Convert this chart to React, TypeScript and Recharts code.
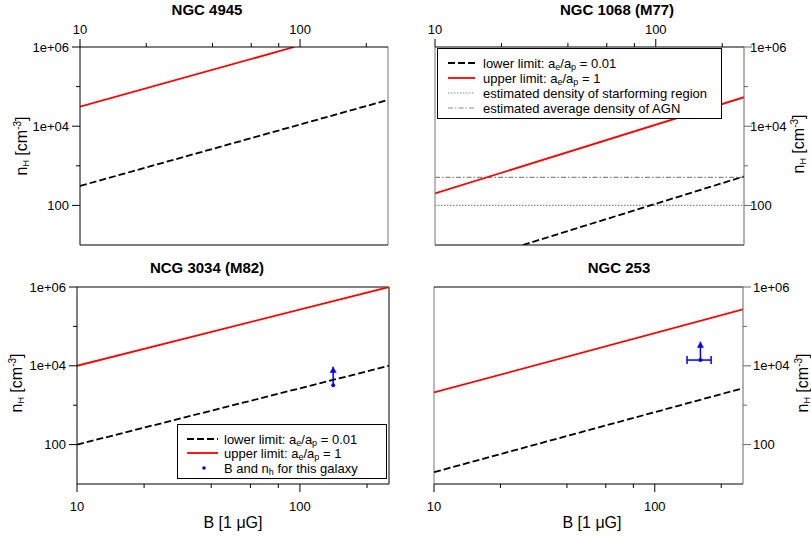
import React from 'react';
import { LineChart, Line, XAxis, YAxis, ReferenceLine } from 'recharts';

const FONT = "'Liberation Sans', Arial, sans-serif";

const B_DOMAIN: [number, number] = [10, 251];
const N_DOMAIN: [number, number] = [10, 1000000];
const B_TICKS = [10, 20, 40, 60, 80, 100, 200];
const N_TICKS = [100, 1000, 10000, 100000, 1000000];
const B_LABELS: Record<number, string> = { 10: '10', 100: '100' };
const N_LABELS: Record<number, string> = { 100: '100', 10000: '1e+04', 1000000: '1e+06' };

const TITLES = ['NGC 4945', 'NGC 1068 (M77)', 'NCG 3034 (M82)', 'NGC 253'];

// NGC 4945
const ngc4945LowerB = [10, 251];
const ngc4945LowerN = [310, 46000];
const ngc4945UpperB = [10, 94];
const ngc4945UpperN = [31000, 1000000];

// NGC 1068 (M77)
const ngc1068LowerB = [25, 251];
const ngc1068LowerN = [10, 540];
const ngc1068UpperB = [10, 251];
const ngc1068UpperN = [200, 54000];
const ngc1068StarB = [10, 251];
const ngc1068StarN = [100, 100];
const ngc1068AgnB = [10, 251];
const ngc1068AgnN = [510, 510];

// NGC 3034 (M82)
const m82LowerB = [10, 251];
const m82LowerN = [100, 10000];
const m82UpperB = [10, 251];
const m82UpperN = [10000, 1000000];
const m82PointB = [141, 141];
const m82PointN = [3200, 9500];

// NGC 253
const ngc253LowerB = [10, 251];
const ngc253LowerN = [20, 2700];
const ngc253UpperB = [10, 251];
const ngc253UpperN = [2100, 270000];
const ngc253PointB = [161, 161];
const ngc253PointN = [14000, 41000];
const ngc253ErrB = [140, 180];
const ngc253ErrN = [14000, 14000];

const pts = (bs: number[], ns: number[]) => bs.map((b, i) => ({ b, n: ns[i] }));

const BLUE = '#0000ff';
const RED = '#ff0000';

const arrowDot = (p: any) => {
  const { cx, cy, index } = p;
  if (index === 1) {
    return <path key={`a${index}`} d={`M${cx},${cy} L${cx - 3.5},${cy + 6} L${cx + 3.5},${cy + 6} Z`} fill={BLUE} />;
  }
  return <circle key={`a${index}`} cx={cx} cy={cy} r={2} fill={BLUE} />;
};

const capDot = (p: any) => {
  const { cx, cy, index } = p;
  return <line key={`c${index}`} x1={cx} y1={cy - 4} x2={cx} y2={cy + 4} stroke={BLUE} strokeWidth={1.5} />;
};

type Series = { key: string; data: { b: number; n: number }[]; stroke: string; width: number; dash?: string; dot?: any };

const makeXTick = (top: boolean) => (props: any) => {
  const { x, y, payload } = props;
  const v = payload.value;
  const label = B_LABELS[v];
  const len = label ? 8 : 4;
  const dir = top ? -1 : 1;
  return (
    <g>
      <line x1={x} y1={y} x2={x} y2={y + dir * len} stroke="#000" />
      {label && (
        <text x={x} y={top ? y - 13 : y + 27} textAnchor="middle" fontSize={13} fontFamily={FONT} fill="#000">
          {label}
        </text>
      )}
    </g>
  );
};

const makeYTick = (right: boolean, gap: number, color: string) => (props: any) => {
  const { x, y, payload } = props;
  const v = payload.value;
  const label = N_LABELS[v];
  const len = label ? 8 : 4;
  const dir = right ? 1 : -1;
  return (
    <g>
      <line x1={x} y1={y} x2={x + dir * len} y2={y} stroke={color} />
      {label && (
        <text x={x + dir * gap} y={y + 4.5} textAnchor={right ? 'start' : 'end'} fontSize={13} fontFamily={FONT} fill="#000">
          {label}
        </text>
      )}
    </g>
  );
};

type Box = { left: number; top: number; w: number; h: number };
type Plot = { x0: number; x1: number; y0: number; y1: number };

function Panel(props: {
  box: Box; plot: Plot; xTop: boolean; yRight: boolean; series: Series[]; yGap: number; yColor: string; edgeV: string;
}) {
  const { box, plot, xTop, yRight, series, yGap, yColor, edgeV } = props;
  const XH = 30;
  const YW = 60;
  const margin = {
    top: xTop ? plot.y0 - box.top - XH : plot.y0 - box.top,
    bottom: xTop ? box.top + box.h - plot.y1 : box.top + box.h - plot.y1 - XH,
    left: yRight ? plot.x0 - box.left : plot.x0 - box.left - YW,
    right: yRight ? box.left + box.w - plot.x1 - YW : box.left + box.w - plot.x1,
  };
  return (
    <div style={{ position: 'absolute', left: box.left, top: box.top, width: box.w, height: box.h }}>
      <LineChart width={box.w} height={box.h} margin={margin}>
        <XAxis
          xAxisId="b" type="number" dataKey="b" scale="log" domain={B_DOMAIN} allowDataOverflow
          ticks={B_TICKS} interval={0} orientation={xTop ? 'top' : 'bottom'} height={XH}
          tickSize={0} tickMargin={0} tickLine={false} axisLine={{ stroke: '#000' }} tick={makeXTick(xTop)}
        />
        <YAxis
          yAxisId="n" type="number" dataKey="n" scale="log" domain={N_DOMAIN} allowDataOverflow
          ticks={N_TICKS} interval={0} orientation={yRight ? 'right' : 'left'} width={YW}
          tickSize={0} tickMargin={0} tickLine={false} axisLine={{ stroke: yColor }} tick={makeYTick(yRight, yGap, yColor)}
        />
        <ReferenceLine xAxisId="b" yAxisId="n" x={yRight ? B_DOMAIN[0] : B_DOMAIN[1]} stroke={edgeV} strokeWidth={1} />
        <ReferenceLine xAxisId="b" yAxisId="n" y={xTop ? N_DOMAIN[0] : N_DOMAIN[1]} stroke="#000" strokeWidth={1} />
        {series.map((s) => (
          <Line
            key={s.key} xAxisId="b" yAxisId="n" data={s.data} dataKey="n" type="linear"
            stroke={s.stroke} strokeWidth={s.width} strokeDasharray={s.dash}
            dot={s.dot ? s.dot : false} activeDot={false} isAnimationActive={false}
          />
        ))}
      </LineChart>
    </div>
  );
}

const sub = (t: string) => <span style={{ fontSize: 9, position: 'relative', top: 2, lineHeight: '9px' }}>{t}</span>;
const sup = (t: string) => <span style={{ fontSize: 10, position: 'relative', top: -6, lineHeight: '10px' }}>{t}</span>;

const Ratio = () => (
  <>a{sub('e')}/a{sub('p')}</>
);

function LegendRow(props: { top: number; textLeft: number; sample: React.ReactNode; children: React.ReactNode }) {
  return (
    <>
      <div style={{ position: 'absolute', left: 0, top: props.top - 6, height: 12 }}>{props.sample}</div>
      <div style={{ position: 'absolute', left: props.textLeft, top: props.top - 6.5, height: 13, lineHeight: '13px', whiteSpace: 'nowrap', fontSize: 13 }}>
        {props.children}
      </div>
    </>
  );
}

const sampleLine = (x0: number, x1: number, stroke: string, width: number, dash?: string) => (
  <svg width={x1 + 2} height={12} style={{ display: 'block' }}>
    <line x1={x0} y1={6} x2={x1} y2={6} stroke={stroke} strokeWidth={width} strokeDasharray={dash} />
  </svg>
);

const sampleDot = (cx: number) => (
  <svg width={cx + 4} height={12} style={{ display: 'block' }}>
    <circle cx={cx} cy={6} r={1.8} fill={BLUE} />
  </svg>
);

function YLabel(props: { cx: number; cy: number }) {
  return (
    <div style={{
      position: 'absolute', left: props.cx, top: props.cy, transform: 'translate(-50%, -50%) rotate(-90deg)',
      whiteSpace: 'nowrap', fontSize: 16, lineHeight: '18px',
    }}>
      n{sub('H')} [cm{sup('-3')}]
    </div>
  );
}

function Title(props: { cx: number; cy: number; text: string }) {
  return (
    <div style={{
      position: 'absolute', left: props.cx, top: props.cy, transform: 'translate(-50%, -50%)',
      whiteSpace: 'nowrap', fontSize: 15, fontWeight: 'bold', lineHeight: '18px',
    }}>{props.text}</div>
  );
}

function XLabel(props: { cx: number; cy: number }) {
  return (
    <div style={{
      position: 'absolute', left: props.cx, top: props.cy, transform: 'translate(-50%, -50%)',
      whiteSpace: 'nowrap', fontSize: 16, lineHeight: '18px',
    }}>B [1 μG]</div>
  );
}

const DASH = '7 3';

export default function App() {
  const p1: Series[] = [
    { key: 'lo', data: pts(ngc4945LowerB, ngc4945LowerN), stroke: '#000', width: 1.8, dash: DASH },
    { key: 'up', data: pts(ngc4945UpperB, ngc4945UpperN), stroke: RED, width: 1.8 },
  ];
  const p2: Series[] = [
    { key: 'star', data: pts(ngc1068StarB, ngc1068StarN), stroke: '#888', width: 1.2, dash: '1.5 1.5' },
    { key: 'agn', data: pts(ngc1068AgnB, ngc1068AgnN), stroke: '#888', width: 1.2, dash: '5 2 1.5 2' },
    { key: 'lo', data: pts(ngc1068LowerB, ngc1068LowerN), stroke: '#000', width: 1.8, dash: DASH },
    { key: 'up', data: pts(ngc1068UpperB, ngc1068UpperN), stroke: RED, width: 1.8 },
  ];
  const p3: Series[] = [
    { key: 'lo', data: pts(m82LowerB, m82LowerN), stroke: '#000', width: 1.8, dash: DASH },
    { key: 'up', data: pts(m82UpperB, m82UpperN), stroke: RED, width: 1.8 },
    { key: 'pt', data: pts(m82PointB, m82PointN), stroke: BLUE, width: 1.5, dot: arrowDot },
  ];
  const p4: Series[] = [
    { key: 'lo', data: pts(ngc253LowerB, ngc253LowerN), stroke: '#000', width: 1.8, dash: DASH },
    { key: 'up', data: pts(ngc253UpperB, ngc253UpperN), stroke: RED, width: 1.8 },
    { key: 'err', data: pts(ngc253ErrB, ngc253ErrN), stroke: BLUE, width: 1.5, dot: capDot },
    { key: 'pt', data: pts(ngc253PointB, ngc253PointN), stroke: BLUE, width: 1.5, dot: arrowDot },
  ];

  return (
    <div style={{ position: 'absolute', left: 0, top: 0, width: 811, height: 539, background: '#fff', fontFamily: FONT, color: '#000', overflow: 'hidden' }}>
      <Panel box={{ left: 0, top: 0, w: 400, h: 260 }} plot={{ x0: 80, x1: 388, y0: 47, y1: 245 }} xTop yRight={false} series={p1} yGap={11} yColor="#000" edgeV="#777" />
      <Panel box={{ left: 400, top: 0, w: 411, h: 260 }} plot={{ x0: 435, x1: 744, y0: 47, y1: 245 }} xTop yRight series={p2} yGap={6} yColor="#666" edgeV="#777" />
      <Panel box={{ left: 0, top: 260, w: 400, h: 279 }} plot={{ x0: 77, x1: 389, y0: 287, y1: 484 }} xTop={false} yRight={false} series={p3} yGap={11} yColor="#000" edgeV="#000" />
      <Panel box={{ left: 400, top: 260, w: 411, h: 279 }} plot={{ x0: 434, x1: 743, y0: 287, y1: 484 }} xTop={false} yRight series={p4} yGap={10} yColor="#666" edgeV="#777" />

      <Title cx={207} cy={10} text={TITLES[0]} />
      <Title cx={617} cy={10} text={TITLES[1]} />
      <Title cx={207} cy={268} text={TITLES[2]} />
      <Title cx={619} cy={268} text={TITLES[3]} />

      <YLabel cx={22} cy={146} />
      <YLabel cx={799} cy={144} />
      <YLabel cx={17} cy={383} />
      <YLabel cx={803} cy={383} />

      <XLabel cx={233} cy={523} />
      <XLabel cx={592} cy={523} />

      {/* legend NGC 1068 */}
      <div style={{ position: 'absolute', left: 437, top: 48, width: 285, height: 71, border: '1px solid #000', boxSizing: 'border-box', background: '#fff' }}>
        <LegendRow top={14} textLeft={45} sample={sampleLine(10, 37, '#000', 1.8, DASH)}>lower limit: <Ratio /> = 0.01</LegendRow>
        <LegendRow top={29} textLeft={45} sample={sampleLine(10, 37, RED, 1.8)}>upper limit: <Ratio /> = 1</LegendRow>
        <LegendRow top={44} textLeft={45} sample={sampleLine(10, 37, '#888', 1, '1.5 1.5')}>estimated density of starforming region</LegendRow>
        <LegendRow top={59} textLeft={45} sample={sampleLine(10, 37, '#888', 1, '5 2 1.5 2')}>estimated average density of AGN</LegendRow>
      </div>

      {/* legend M82 */}
      <div style={{ position: 'absolute', left: 177, top: 424, width: 210, height: 55, border: '1px solid #000', boxSizing: 'border-box', background: '#fff' }}>
        <LegendRow top={14} textLeft={46} sample={sampleLine(9, 40, '#000', 1.8, DASH)}>lower limit: <Ratio /> = 0.01</LegendRow>
        <LegendRow top={28} textLeft={46} sample={sampleLine(9, 40, RED, 1.8)}>upper limit: <Ratio /> = 1</LegendRow>
        <LegendRow top={43} textLeft={46} sample={sampleDot(26)}>B and n{sub('h')} for this galaxy</LegendRow>
      </div>
    </div>
  );
}
